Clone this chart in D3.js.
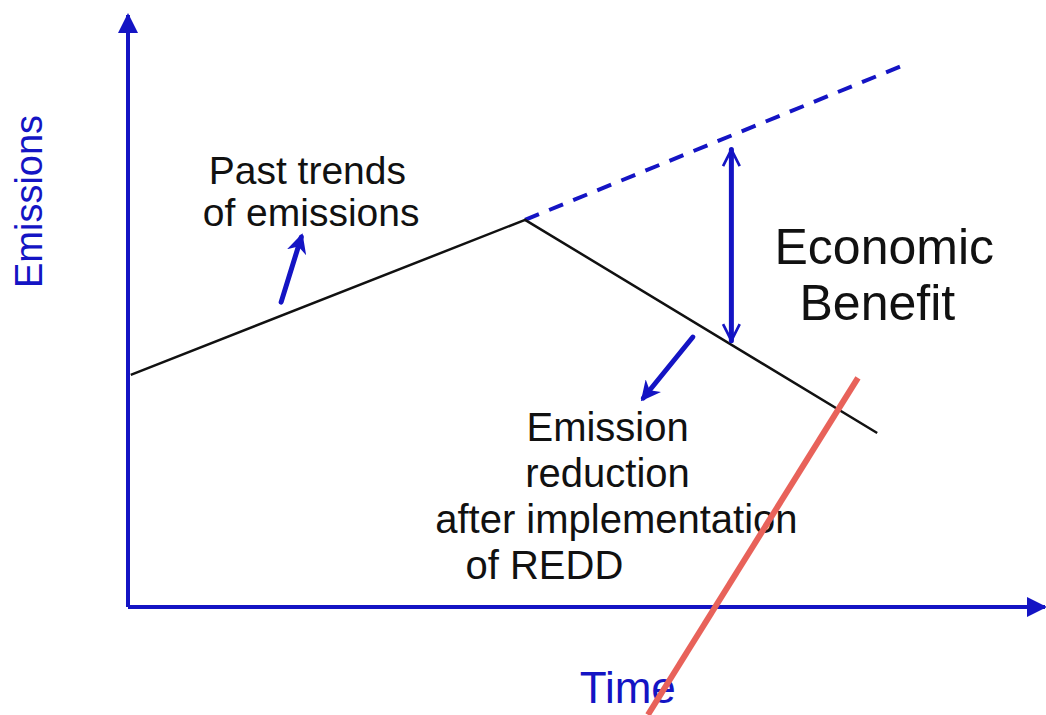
<!DOCTYPE html>
<html>
<head>
<meta charset="utf-8">
<script src="https://cdn.jsdelivr.net/npm/d3@7"></script>
<style>
  body { margin: 0; background: #fff; }
  .note { font-family: "Liberation Sans", "DejaVu Sans", sans-serif; fill: #111; }
  .axisText { font-family: "Liberation Sans", "DejaVu Sans", sans-serif; fill: #1414c4; }
</style>
</head>
<body>
<div class="chart"></div>
<script>
var svgWidth = 1046;
var svgHeight = 715;

// schematic values, time and emissions on a 0-100 scale
var years = [0.3, 43.3, 81.7];            // actual emissions path
var emissions = [39.2, 65.4, 29.4];
var baselineYears = [43.3, 84.7];          // projected (business as usual)
var baselineEmissions = [65.4, 91.6];
var benefitYear = 65.8;                    // where the gap is marked

var xLabel = "Time";
var yLabel = "Emissions";
var pastLabel = ["Past trends", "of emissions"];
var benefitLabel = ["Economic", "Benefit"];
var reductionLabel = ["Emission", "reduction", "after implementation", "of REDD"];

var blue = "#1414c4";

var svg = d3.select(".chart")
  .append("svg")
  .attr("width", svgWidth)
  .attr("height", svgHeight);

var x = d3.scaleLinear().domain([0, 100]).range([128, 1045]);
var y = d3.scaleLinear().domain([0, 100]).range([607, 15]);

var defs = svg.append("defs");
// filled arrow head for the axes
defs.append("marker")
  .attr("id", "axisHead")
  .attr("viewBox", "0 0 10 10")
  .attr("refX", 9).attr("refY", 5)
  .attr("markerWidth", 5).attr("markerHeight", 5)
  .attr("markerUnits", "strokeWidth")
  .attr("orient", "auto")
  .append("path").attr("d", "M0,0 L10,5 L0,10 Z").attr("fill", blue);
// open chevron for the benefit arrow
defs.append("marker")
  .attr("id", "vHead")
  .attr("viewBox", "0 0 12 12")
  .attr("refX", 11).attr("refY", 6)
  .attr("markerWidth", 4).attr("markerHeight", 4)
  .attr("markerUnits", "strokeWidth")
  .attr("orient", "auto-start-reverse")
  .append("path").attr("d", "M1,1 L11,6 L1,11")
  .attr("fill", "none").attr("stroke", blue).attr("stroke-width", 1.6);
// small solid head for pointer arrows
defs.append("marker")
  .attr("id", "ptrHead")
  .attr("viewBox", "0 0 10 10")
  .attr("refX", 8).attr("refY", 5)
  .attr("markerWidth", 4).attr("markerHeight", 4)
  .attr("markerUnits", "strokeWidth")
  .attr("orient", "auto")
  .append("path").attr("d", "M0,0 L10,5 L0,10 L3,5 Z").attr("fill", blue);

// axes
svg.append("line")
  .attr("x1", x(0)).attr("y1", y(0)).attr("x2", x(0)).attr("y2", y(100))
  .attr("stroke", blue).attr("stroke-width", 4).attr("marker-end", "url(#axisHead)");
svg.append("line")
  .attr("x1", x(0)).attr("y1", y(0)).attr("x2", x(100)).attr("y2", y(0))
  .attr("stroke", blue).attr("stroke-width", 4).attr("marker-end", "url(#axisHead)");

var line = d3.line().x(d => x(d[0])).y(d => y(d[1]));

// projected emissions, dashed
svg.append("path")
  .datum(d3.zip(baselineYears, baselineEmissions))
  .attr("d", line)
  .attr("fill", "none")
  .attr("stroke", blue)
  .attr("stroke-width", 4)
  .attr("stroke-dasharray", "15,11");

// actual emissions
svg.append("path")
  .datum(d3.zip(years, emissions))
  .attr("d", line)
  .attr("fill", "none")
  .attr("stroke", "#111")
  .attr("stroke-width", 2.5)
  .attr("stroke-linejoin", "round");

// gap between the two at benefitYear
var interp = function(xs, ys, t) {
  for (var i = 0; i < xs.length - 1; i++) {
    if (t >= xs[i] && t <= xs[i + 1]) {
      var k = (t - xs[i]) / (xs[i + 1] - xs[i]);
      return ys[i] + k * (ys[i + 1] - ys[i]);
    }
  }
  return ys[ys.length - 1];
};
var topVal = interp(baselineYears, baselineEmissions, benefitYear);
var lowVal = interp(years, emissions, benefitYear);
svg.append("line")
  .attr("x1", x(benefitYear)).attr("y1", y(topVal) + 14)
  .attr("x2", x(benefitYear)).attr("y2", y(lowVal) - 4)
  .attr("stroke", blue).attr("stroke-width", 5)
  .attr("stroke-linecap", "round")
  .attr("marker-start", "url(#vHead)")
  .attr("marker-end", "url(#vHead)");

// pointer arrows
svg.append("line")
  .attr("x1", x(16.7)).attr("y1", y(51.5)).attr("x2", x(18.9)).attr("y2", y(62.5))
  .attr("stroke", blue).attr("stroke-width", 5).attr("stroke-linecap", "round")
  .attr("marker-end", "url(#ptrHead)");
svg.append("line")
  .attr("x1", x(61.6)).attr("y1", y(45.6)).attr("x2", x(56.2)).attr("y2", y(35.3))
  .attr("stroke", blue).attr("stroke-width", 5).attr("stroke-linecap", "round")
  .attr("marker-end", "url(#ptrHead)");

// labels
svg.append("text")
  .attr("class", "axisText")
  .attr("transform", `translate(${x(54.5)}, ${y(-16.2)})`)
  .attr("text-anchor", "middle")
  .attr("font-size", 44)
  .text(xLabel);
svg.append("text")
  .attr("class", "axisText")
  .attr("transform", `translate(42, ${y(68.5)}) rotate(-90)`)
  .attr("text-anchor", "middle")
  .attr("font-size", 38)
  .text(yLabel);

svg.append("g").selectAll("text")
  .data(pastLabel).enter().append("text")
  .attr("class", "note")
  .attr("x", (d, i) => x(8.8) - i * 6).attr("y", (d, i) => y(71.5) + i * 42)
  .attr("font-size", 39)
  .text(d => d);

svg.append("g").selectAll("text")
  .data(benefitLabel).enter().append("text")
  .attr("class", "note")
  .attr("x", (d, i) => x(70.5) + i * 25).attr("y", (d, i) => y(58) + i * 56)
  .attr("font-size", 50)
  .text(d => d);

svg.append("g").selectAll("text")
  .data(reductionLabel).enter().append("text")
  .attr("class", "note")
  .attr("x", (d, i) => [x(52.3), x(52.3), x(33.5), x(36.8)][i])
  .attr("y", (d, i) => y(28) + i * 46)
  .attr("text-anchor", (d, i) => i < 2 ? "middle" : "start")
  .attr("font-size", 40)
  .text(d => d);

// stray red stroke across the picture
svg.append("line")
  .attr("x1", x(79.6)).attr("y1", y(38.7)).attr("x2", x(56.7)).attr("y2", y(-18.2))
  .attr("stroke", "#e8625a").attr("stroke-width", 6);
</script>
</body>
</html>
